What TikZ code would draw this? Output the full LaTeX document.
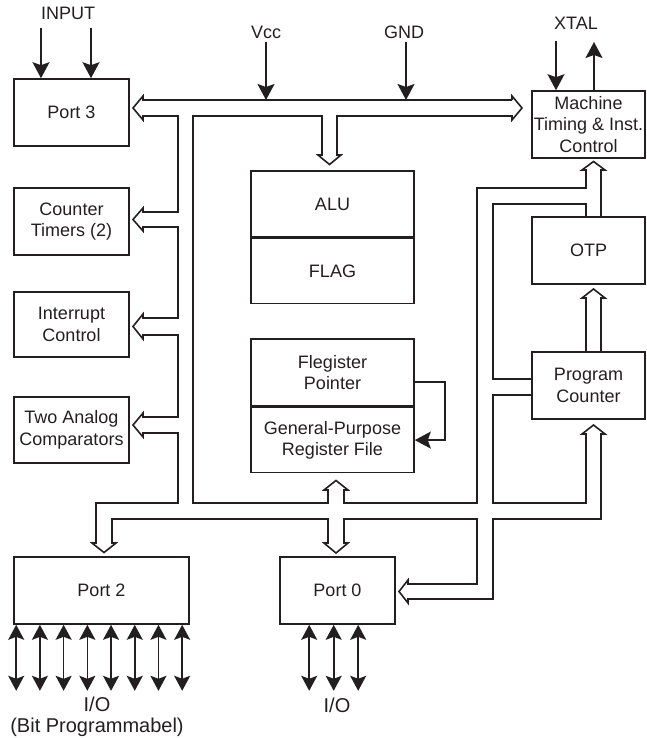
\documentclass[tikz,border=0pt]{standalone}
\usepackage{fontspec}
\setmainfont{Liberation Sans}
\usetikzlibrary{arrows.meta,positioning}
\definecolor{ink}{HTML}{231F20}

\begin{document}
\begin{tikzpicture}[x=1pt, y=-1pt, color=ink, font=\fontsize{18}{21.5}\selectfont,
  blk/.style={draw, line width=1.6pt, minimum width=115pt, minimum height=67pt, inner sep=0pt, align=center},
  bus/.style={draw, line width=1.6pt, line join=miter},
  sig/.style={draw, line width=1.6pt, -{Stealth[length=16pt,width=17pt,inset=3pt]}},
  io/.style={draw, line width=1.6pt, {Stealth[length=15pt,width=16pt,inset=3pt]}-{Stealth[length=15pt,width=16pt,inset=3pt]}},
  lbl/.style={font=\fontsize{20}{21}\selectfont, align=center, inner sep=0pt}]
\useasboundingbox (0,0) rectangle (646,738);
% --- left column ---
\node[blk] (p3) at (71.5,112.5) {Port 3};
\node[blk] (ct) at (71.5,221.5) {Counter\\Timers (2)};
\node[blk, minimum height=65pt] (ic) at (71.5,324.5) {Interrupt\\Control};
\node[blk, minimum height=66pt] (ac) at (71.5,430) {Two Analog\\Comparators};
% --- middle column ---
\node[blk, minimum width=163pt, minimum height=66pt] (alu) at (332.5,204) {ALU};
\node[blk, minimum width=163pt, minimum height=65pt, below=0pt of alu] (flag) {FLAG};
\node[blk, minimum width=163pt] (rp) at (332.5,372.5) {Flegister\\Pointer};
\node[blk, minimum width=163pt, minimum height=65pt, below=0pt of rp] (gp) {General-Purpose\\Register File};
% --- right column ---
\node[blk, minimum width=113pt] (mtc) at (588.5,124.5) {Machine\\Timing \& Inst.\\Control};
\node[blk, minimum width=113pt] (otp) at (588.5,250.5) {OTP};
\node[blk, minimum width=113pt] (pc) at (588.5,385.5) {Program\\Counter};
% --- ports ---
\node[blk, minimum width=175pt] (p2) at (101.5,590.5) {Port 2};
\node[blk] (p0) at (337.5,590.5) {Port 0};
% --- outside signals ---
\node (inp) at (68,13) {INPUT};
\node (vcc) at (266,32) {Vcc};
\node (gnd) at (404,32) {GND};
\node (xtal) at (576,23.5) {XTAL};
\coordinate (in1) at (41,28);
\coordinate (in2) at (91,28);
\coordinate (vccb) at (266,100);
\coordinate (gndb) at (406,100);
\coordinate (xt1) at (556,41);
\coordinate (xt2) at (594,42);
\draw[sig] (in1) -- (in1 |- p3.north);
\draw[sig] (in2) -- (in2 |- p3.north);
\draw[sig] (vcc) -- (vccb);
\draw[sig] (gnd.south -| gndb) -- (gndb);
\draw[sig] (xt1) -- (xt1 |- mtc.north);
\draw[sig] (xt2 |- mtc.north) -- (xt2);
% register pointer feedback
\draw[sig] ([yshift=-9.5pt]rp.east) -- ++(30,0) |- (gp.east);
% --- buses ---
\draw[bus] (512,100) -- (512,96) -- (522,108) -- (512,120) -- (512,116) -- (337,116) -- (337,155)
  -- (341,155) -- (329.5,164.5) -- (318,155) -- (322,155) -- (322,116) -- (193,116) -- (193,503)
  -- (328,503) -- (328,490) -- (324,490) -- (336,480.5) -- (348,490) -- (344,490) -- (344,503)
  -- (477,503) -- (477,188) -- (586,188) -- (586,170) -- (582,170) -- (593.5,161.5) -- (605,170)
  -- (601,170) -- (601,217);
\draw[bus] (512,100) -- (143,100) -- (143,96) -- (133,108) -- (143,120) -- (143,116) -- (178,116)
  -- (178,212) -- (143,212) -- (143,208) -- (133,219.5) -- (143,231) -- (143,227) -- (178,227)
  -- (178,318) -- (143,318) -- (143,314) -- (133,326.5) -- (143,339) -- (143,335) -- (178,335)
  -- (178,417) -- (143,417) -- (143,413) -- (133,425) -- (143,437) -- (143,433) -- (178,433)
  -- (178,503) -- (96,503) -- (96,543) -- (92,543) -- (104,552.5) -- (116,543) -- (112,543)
  -- (112,519) -- (328,519) -- (328,543) -- (324,543) -- (336,553) -- (348,543) -- (344,543)
  -- (344,519) -- (477,519) -- (477,584) -- (408,584) -- (408,580) -- (399,591.5) -- (408,603)
  -- (408,599) -- (493,599) -- (493,519) -- (601,519) -- (601,434) -- (605,434) -- (593.5,425)
  -- (582,434) -- (586,434) -- (586,503) -- (493,503) -- (493,395) -- (532,395);
\draw[bus] (532,379) -- (493,379) -- (493,204) -- (586,204) -- (586,217);
\draw[bus] (586,352) -- (586,298) -- (582,298) -- (593.5,289) -- (605,298) -- (601,298) -- (601,352);
% --- I/O lines ---
\foreach \i in {0,...,7}
  \draw[io] ([xshift=3pt+23.71pt*\i]p2.south west) -- ++(0,66);
\foreach \i in {0,1,2}
  \draw[io] ([xshift=30pt+24.5pt*\i]p0.south west) -- ++(0,66);
\node[lbl] (io2) at (97,716.5) {I/O\\(Bit Programmabel)};
\node[lbl] (io0) at (337,705) {I/O};
\end{tikzpicture}
\end{document}
